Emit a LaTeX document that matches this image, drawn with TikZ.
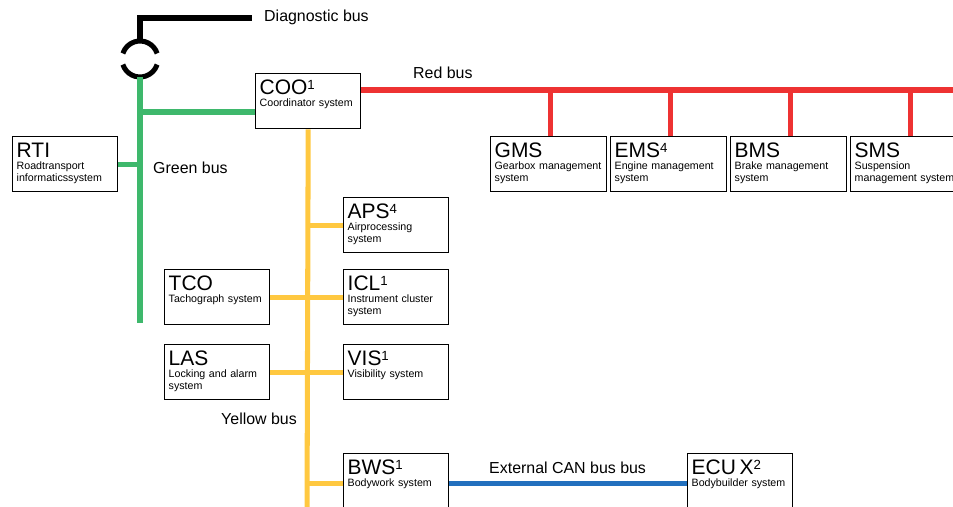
\documentclass[tikz,border=0pt]{standalone}
\usepackage{fontspec}
\setmainfont{Liberation Sans}
\usetikzlibrary{calc}

\definecolor{busred}{RGB}{238,50,50}
\definecolor{busgreen}{RGB}{62,184,108}
\definecolor{busyellow}{RGB}{255,200,64}
\definecolor{busblue}{RGB}{34,112,190}

\hyphenpenalty=10000
\exhyphenpenalty=10000

\newcommand{\ecutitle}[2]{{\fontsize{17.9}{10.25}\selectfont #1\raisebox{4.3pt}{\fontsize{11.3}{12}\selectfont #2}}}

\begin{document}
\begin{tikzpicture}[x=0.03cm, y=-0.03cm,
  ecu/.style={draw, line width=1.2pt, anchor=north west, align=left,
    text width=82.8pt, text height=13.5pt, text depth=24.85pt,
    inner xsep=3.4pt, inner ysep=4.3pt, font=\fontsize{9.1}{10.25}\selectfont},
  wide/.style={text width=92.2pt},
  bus/.style={line width=4.3pt},
  buslabel/.style={anchor=base west, inner sep=0pt, font=\fontsize{13.6}{16}\selectfont}]

\path[use as bounding box, clip] (0,0) rectangle (953,507);

% Control units
\node[ecu] (coo) at (255,73) {\ecutitle{COO}{1}\\Coordinator system};
\node[ecu] (rti) at (12,136) {\ecutitle{RTI}{}\\Roadtransport informaticssystem};
\node[ecu, wide] (gms) at (490,136) {\ecutitle{GMS}{}\\Gearbox management system};
\node[ecu, wide] (ems) at (610,136) {\ecutitle{EMS}{4}\\Engine management system};
\node[ecu, wide] (bms) at (730,136) {\ecutitle{BMS}{}\\Brake management system};
\node[ecu, wide] (sms) at (850,136) {\ecutitle{SMS}{}\\Suspension management system};
\node[ecu] (aps) at (343,197) {\ecutitle{APS}{4}\\Airprocessing system};
\node[ecu] (tco) at (164,269) {\ecutitle{TCO}{}\\Tachograph system};
\node[ecu] (icl) at (343,269) {\ecutitle{ICL}{1}\\Instrument cluster system};
\node[ecu] (las) at (164,344) {\ecutitle{LAS}{}\\Locking and alarm system};
\node[ecu] (vis) at (343,344) {\ecutitle{VIS}{1}\\Visibility system};
\node[ecu] (bws) at (343,453) {\ecutitle{BWS}{1}\\Bodywork system};
\node[ecu] (ecux) at (687,453) {\ecutitle{ECU X}{2}\\Bodybuilder system};

% Bus labels
\node[buslabel] (diaglabel) at (264,22) {Diagnostic bus};
\node[buslabel] (redlabel) at (413,79) {Red bus};
\node[buslabel] (greenlabel) at (153,173) {Green bus};
\node[buslabel] (yellowlabel) at (221,424) {Yellow bus};
\node[buslabel] (canlabel) at (489,473) {External CAN bus bus};

% Diagnostic connector
\coordinate (plug) at (140,59);
\coordinate (diagend) at (252,18);
\draw[bus] ($(plug)+(18:0.54cm)$) arc[start angle=18, end angle=162, radius=0.54cm];
\draw[bus] ($(plug)+(198:0.54cm)$) arc[start angle=198, end angle=342, radius=0.54cm];
\draw[bus] ($(plug)+(90:0.54cm)$) |- (diagend);

% Green bus
\coordinate (greenend) at (140,323);
\coordinate (greenjoin) at (140,112);
\draw[bus, busgreen] ($(plug)+(270:0.54cm)$) -- (greenend);
\draw[bus, busgreen] (greenjoin) -- (greenjoin -| coo.west);
\draw[bus, busgreen] (rti.east) -- (rti.east -| greenend);

% Red bus
\coordinate (redend) at (960,90);
\draw[bus, busred] (coo.east |- redend) -- (redend);
\foreach \unit in {gms,ems,bms,sms}
  \draw[bus, busred] ([xshift=0.06cm]\unit.north) -- ([xshift=0.06cm]\unit.north |- redend);

% Yellow bus
\coordinate (yellowend) at (307,520);
\draw[bus, busyellow] (coo.south) -- (yellowend);
\draw[bus, busyellow] (aps.west) -- (aps.west -| yellowend);
\draw[bus, busyellow] (tco.east) -- (icl.west);
\draw[bus, busyellow] (las.east) -- (vis.west);
\draw[bus, busyellow] ([yshift=-0.06cm]bws.west) -- ([yshift=-0.06cm]bws.west -| yellowend);

% External CAN bus
\draw[bus, busblue] ([yshift=-0.06cm]bws.east) -- ([yshift=-0.06cm]ecux.west);

\end{tikzpicture}
\end{document}
